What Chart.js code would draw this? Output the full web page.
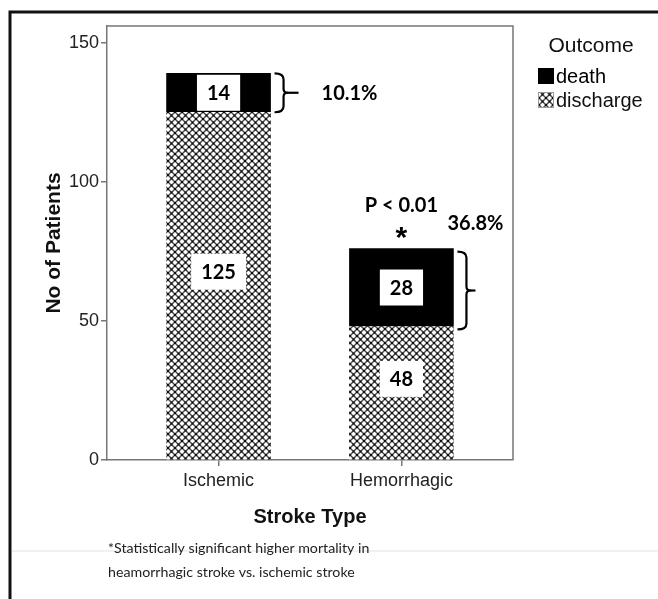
<!DOCTYPE html>
<html><head><meta charset="utf-8">
<script src="https://cdn.jsdelivr.net/npm/chart.js@4/dist/chart.umd.min.js"></script>
<style>html,body{margin:0;padding:0;background:#fff;} #wrap{position:relative;width:658px;height:599px;}</style>
</head><body><div id="wrap"><canvas id="c" width="658" height="599"></canvas></div>
<script>
// ---- data ----
const categories = ['Ischemic', 'Hemorrhagic'];
const categoryPositions = [1, 2];
const deathCounts = [14, 28];
const dischargeCounts = [125, 48];
const mortalityLabels = ['10.1%', '36.8%'];
const yTickValues = [0, 50, 100, 150];
const seriesNames = ['death', 'discharge'];
const legendTitle = 'Outcome';
const significanceText = 'P < 0.01';
const significanceMark = '*';
const xTitle = 'Stroke Type';
const yTitle = 'No of Patients';
const footnoteLines = ['*Statistically significant higher mortality in', 'heamorrhagic stroke vs. ischemic stroke'];

const ARIAL = '"Liberation Sans", Arial, sans-serif';
const CALIBRI = 'Lato, "Open Sans", sans-serif';

function makePattern(size) {
  const p = document.createElement('canvas');
  p.width = size; p.height = size;
  const g = p.getContext('2d');
  g.fillStyle = '#fff'; g.fillRect(0, 0, size, size);
  g.strokeStyle = '#4a4a4a'; g.lineWidth = 1.5;
  g.beginPath();
  g.moveTo(0, 0); g.lineTo(size, size);
  g.moveTo(size, 0); g.lineTo(0, size);
  g.stroke();
  g.fillStyle = '#111';
  const h = size / 2;
  g.fillRect(h - 1, h - 1, 2, 2);
  g.fillRect(0, 0, 1, 1); g.fillRect(size - 1, 0, 1, 1); g.fillRect(0, size - 1, 1, 1); g.fillRect(size - 1, size - 1, 1, 1);
  return g.createPattern(p, 'repeat');
}
const hatch = makePattern(7);

function brace(ctx, x, yTop, yBot, tickLen) {
  const ym = (yTop + yBot) / 2;
  ctx.save();
  ctx.strokeStyle = '#000'; ctx.lineWidth = 2.2; ctx.lineJoin = 'round'; ctx.lineCap = 'butt';
  ctx.beginPath();
  ctx.moveTo(x, yTop);
  ctx.quadraticCurveTo(x + 9, yTop, x + 9, yTop + 6);
  ctx.lineTo(x + 9, ym - 4);
  ctx.quadraticCurveTo(x + 9, ym, x + 13, ym);
  ctx.quadraticCurveTo(x + 9, ym, x + 9, ym + 4);
  ctx.lineTo(x + 9, yBot - 6);
  ctx.quadraticCurveTo(x + 9, yBot, x, yBot);
  ctx.stroke();
  ctx.beginPath();
  ctx.moveTo(x + 12, ym); ctx.lineTo(x + 12 + tickLen, ym);
  ctx.stroke();
  ctx.restore();
}

const decor = {
  id: 'decor',
  beforeDraw(chart) {
    const c = chart.ctx;
    c.save();
    c.fillStyle = '#fff'; c.fillRect(0, 0, chart.width, chart.height);
    c.strokeStyle = '#e2e2e2'; c.lineWidth = 1.2;
    c.beginPath(); c.moveTo(12, 551); c.lineTo(chart.width, 551); c.stroke();
    c.strokeStyle = '#111'; c.lineWidth = 3;
    c.beginPath(); c.moveTo(10, chart.height); c.lineTo(10, 12); c.lineTo(chart.width, 12); c.stroke();
    c.restore();
  },
  afterDraw(chart) {
    const c = chart.ctx;
    const a = chart.chartArea;
    c.save();
    c.strokeStyle = '#777'; c.lineWidth = 1.5;
    c.beginPath(); c.moveTo(a.left, a.top); c.lineTo(a.right, a.top); c.lineTo(a.right, a.bottom); c.stroke();

    // value boxes
    c.font = 'bold 20px ' + CALIBRI;
    c.textAlign = 'center'; c.textBaseline = 'middle';
    chart.data.datasets.forEach((ds, di) => {
      const meta = chart.getDatasetMeta(di);
      meta.data.forEach((el, i) => {
        const txt = String(ds.data[i].y);
        const shift = ds.label === 'discharge' ? -14 : 0;
        const cy = (el.y + el.base) / 2 + shift;
        const w = c.measureText(txt).width + 20;
        const h = 36;
        c.fillStyle = '#fff';
        c.fillRect(el.x - w / 2, cy - h / 2, w, h);
        c.fillStyle = '#000';
        c.fillText(txt, el.x, cy + 1);
      });
    });

    // braces + percentages
    const dMeta = chart.getDatasetMeta(1);
    dMeta.data.forEach((el, i) => {
      const right = el.x + el.width / 2;
      const yTop = el.y, yBot = el.base;
      const ym = (yTop + yBot) / 2;
      c.font = 'bold 20px ' + CALIBRI;
      c.fillStyle = '#000';
      c.textBaseline = 'middle';
      if (i === 0) {
        brace(c, right + 4, yTop, yBot, 12);
        c.textAlign = 'left';
        c.fillText(mortalityLabels[i], right + 51, ym + 1);
      } else {
        brace(c, right + 4, yTop + 3, yBot + 3, 6);
        c.textAlign = 'center';
        c.fillText(mortalityLabels[i], right + 22, yTop - 25);
        c.fillText(significanceText, el.x, yTop - 43);
        c.font = 'bold 30px ' + ARIAL;
        c.fillText(significanceMark, el.x, yTop - 10);
      }
    });

    // legend
    c.fillStyle = '#111';
    c.font = '21px ' + ARIAL;
    c.textAlign = 'center'; c.textBaseline = 'middle';
    c.fillText(legendTitle, 591, 46);
    c.textAlign = 'left';
    c.font = '20px ' + ARIAL;
    c.fillStyle = '#000';
    c.fillRect(538, 68, 16, 16);
    c.fillText(seriesNames[0], 556, 77);
    c.fillStyle = hatch; c.fillRect(538, 92, 16, 16);
    c.strokeStyle = '#999'; c.lineWidth = 1; c.strokeRect(538.5, 92.5, 15, 15);
    c.fillStyle = '#111';
    c.fillText(seriesNames[1], 556, 101);

    // footnote
    c.fillStyle = '#222';
    c.font = '14.2px ' + CALIBRI;
    c.textAlign = 'left'; c.textBaseline = 'middle';
    c.fillText(footnoteLines[0], 108, 548);
    c.fillText(footnoteLines[1], 108, 572);
    c.restore();
  }
};

const chart = new Chart(document.getElementById('c'), {
  type: 'bar',
  data: {
    datasets: [
      {
        label: seriesNames[1],
        data: categoryPositions.map((x, i) => ({ x, y: dischargeCounts[i] })),
        backgroundColor: hatch,
        borderWidth: 0,
        barThickness: 104
      },
      {
        label: seriesNames[0],
        data: categoryPositions.map((x, i) => ({ x, y: deathCounts[i] })),
        backgroundColor: '#000',
        borderWidth: 0,
        barThickness: 104
      }
    ]
  },
  options: {
    responsive: false,
    animation: false,
    devicePixelRatio: 1,
    layout: { padding: { left: 0, top: 26, right: 145, bottom: 64 } },
    plugins: { legend: { display: false }, tooltip: { enabled: false } },
    scales: {
      x: {
        type: 'linear',
        stacked: true,
        offset: false,
        min: 0.39, max: 2.61,
        afterBuildTicks(s) { s.ticks = categoryPositions.map(v => ({ value: v })); },
        afterFit(s) { s.height = 75; },
        ticks: {
          callback: (v) => categories[categoryPositions.indexOf(v)],
          font: { family: ARIAL, size: 18 },
          color: '#222',
          padding: 4,
          maxRotation: 0
        },
        grid: { offset: false, drawOnChartArea: false, drawTicks: true, tickLength: 6, color: '#777', lineWidth: 1.5 },
        border: { display: true, color: '#777', width: 1.5 },
        title: {
          display: true, text: xTitle,
          font: { family: ARIAL, size: 20, weight: 'bold' },
          color: '#111',
          padding: { top: 0, bottom: 6 }
        }
      },
      y: {
        stacked: true,
        min: 0, max: 156,
        afterBuildTicks(s) { s.ticks = yTickValues.map(v => ({ value: v })); },
        afterFit(s) { s.width = 107; },
        ticks: {
          font: { family: ARIAL, size: 18 },
          color: '#222',
          padding: 2
        },
        grid: { drawOnChartArea: false, drawTicks: true, tickLength: 6, color: '#777', lineWidth: 1.5 },
        border: { display: true, color: '#777', width: 1.5 },
        title: {
          display: true, text: yTitle,
          font: { family: ARIAL, size: 21, weight: 'bold' },
          color: '#111',
          padding: { top: 42, bottom: 0 }
        }
      }
    }
  },
  plugins: [decor]
});
</script>
</body></html>
